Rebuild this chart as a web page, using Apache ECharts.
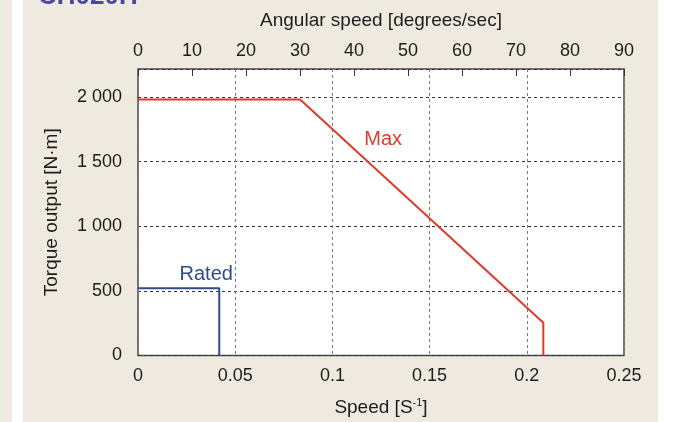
<!DOCTYPE html>
<html>
<head>
<meta charset="utf-8">
<script src="https://cdn.jsdelivr.net/npm/echarts@6/dist/echarts.min.js"></script>
<style>
    html, body { margin: 0; padding: 0; background: #eeeae0; }
    #chart-container { width: 678px; height: 422px; }
</style>
</head>
<body>
<div id="chart-container"></div>
<script>
// speed in rev/s (bottom axis), torque in N·m
var maxSpeed = [0, 0.0834, 0.2085, 0.2085];
var maxTorque = [1980, 1980, 253, 0];
var ratedSpeed = [0, 0.0418, 0.0418];
var ratedTorque = [520, 520, 0];

var speedTicks = [0, 0.05, 0.1, 0.15, 0.2, 0.25];
var angularTicks = [0, 10, 20, 30, 40, 50, 60, 70, 80, 90];
var torqueTicks = [0, 500, 1000, 1500, 2000];

// where the curve names sit (speed, torque)
var maxLabelAt = [0.1261, 1670];
var ratedLabelAt = [0.0351, 630];

var FONT = "'Liberation Sans', Arial, sans-serif";
var TXT = '#1c1c1c';
var RED = '#e03a2c';
var BLUE = '#2f4b8c';

function pairs(xs, ys) {
    return xs.map(function (x, i) {
        return [x, ys[i]];
    });
}
function thousands(v) {
    if (v >= 1000) {
        var s = String(v);
        return s.slice(0, s.length - 3) + ' ' + s.slice(s.length - 3);
    }
    return String(v);
}

var myChart = echarts.init(document.getElementById('chart-container'));

var option = {
    backgroundColor: '#eeeae0',
    animation: false,
    textStyle: { fontFamily: FONT },
    graphic: [
        { type: 'rect', left: 12, top: 0, shape: { width: 11, height: 422 }, style: { fill: '#fff' }, silent: true },
        { type: 'rect', left: 658, top: 0, shape: { width: 20, height: 422 }, style: { fill: '#fff' }, silent: true },
        {
            type: 'text', x: 38, y: 10,
            style: { text: 'CH020H', fill: '#4a47a3', font: 'bold 26px ' + FONT, verticalAlign: 'bottom' },
            silent: true
        }
    ],
    grid: {
        left: 138, right: 54, top: 69, bottom: 66,
        show: true,
        backgroundColor: '#fff',
        borderColor: '#4a4a4a',
        borderWidth: 1.5
    },
    xAxis: [{
        type: 'value',
        position: 'bottom',
        min: speedTicks[0],
        max: speedTicks[speedTicks.length - 1],
        interval: speedTicks[1] - speedTicks[0],
        name: '{a|Speed [S}{s|-1}{a|]}',
        nameLocation: 'middle',
        nameGap: 42,
        nameTextStyle: {
            rich: {
                a: { fontSize: 19, color: TXT, fontFamily: FONT, lineHeight: 20 },
                s: { fontSize: 11, color: TXT, fontFamily: FONT, verticalAlign: 'top', lineHeight: 20 }
            }
        },
        axisLine: { show: false },
        axisTick: { show: false },
        axisLabel: { color: TXT, fontSize: 18, margin: 12, fontFamily: FONT },
        splitLine: { show: true, lineStyle: { color: '#7a7a7a', type: [3, 3], width: 1 } }
    }, {
        type: 'value',
        position: 'top',
        min: angularTicks[0],
        max: angularTicks[angularTicks.length - 1],
        interval: angularTicks[1] - angularTicks[0],
        name: 'Angular speed [degrees/sec]',
        nameLocation: 'middle',
        nameGap: 39,
        nameTextStyle: { color: TXT, fontSize: 19, fontFamily: FONT },
        axisLine: { show: false },
        axisTick: { show: true, inside: true, length: 7, lineStyle: { color: '#333', width: 1 } },
        axisLabel: { color: TXT, fontSize: 18, margin: 9, fontFamily: FONT },
        splitLine: { show: false }
    }],
    yAxis: {
        type: 'value',
        min: torqueTicks[0],
        max: 2216,
        interval: torqueTicks[1] - torqueTicks[0],
        name: 'Torque output [N·m]',
        nameLocation: 'middle',
        nameGap: 77,
        nameTextStyle: { color: TXT, fontSize: 19, fontFamily: FONT },
        axisLine: { show: false },
        axisTick: { show: false },
        axisLabel: {
            color: TXT, fontSize: 18, margin: 16, fontFamily: FONT,
            showMaxLabel: false,
            formatter: function (v) {
                return torqueTicks.indexOf(v) >= 0 ? thousands(v) : '';
            }
        },
        splitLine: { show: true, lineStyle: { color: '#333', type: [3, 3], width: 1 } }
    },
    series: [{
        name: 'Max',
        type: 'line',
        xAxisIndex: 0,
        showSymbol: false,
        symbol: 'none',
        lineStyle: { color: RED, width: 2 },
        data: pairs(maxSpeed, maxTorque),
        z: 3
    }, {
        name: 'Rated',
        type: 'line',
        xAxisIndex: 0,
        showSymbol: false,
        symbol: 'none',
        lineStyle: { color: BLUE, width: 2 },
        data: pairs(ratedSpeed, ratedTorque),
        z: 3
    }, {
        type: 'scatter',
        xAxisIndex: 0,
        symbolSize: 0,
        silent: true,
        itemStyle: { opacity: 1 },
        label: {
            show: true, position: 'inside', fontSize: 20, fontFamily: FONT,
            formatter: function (p) { return p.data.text; }
        },
        data: [
            { value: maxLabelAt, text: 'Max', label: { color: RED } },
            { value: ratedLabelAt, text: 'Rated', label: { color: BLUE } }
        ]
    }]
};

if (option && typeof option === "object") {
    myChart.setOption(option, true);
}
</script>
</body>
</html>
